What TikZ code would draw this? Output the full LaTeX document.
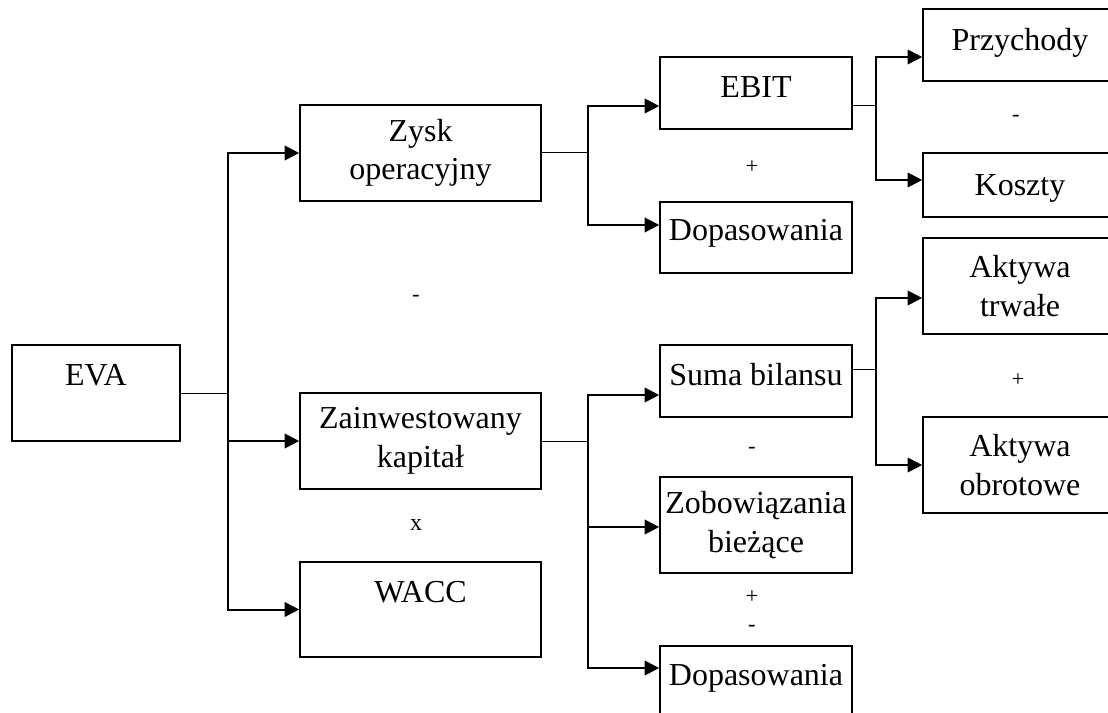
\documentclass[tikz,border=0pt]{standalone}
\usepackage{fontspec}
\setmainfont{Liberation Serif}
\usetikzlibrary{arrows.meta}
\tikzset{
  blok/.style={draw, line width=1.2pt, inner sep=0pt, align=center,
    font=\fontsize{24}{29}\selectfont},
  jeden/.style={text height=17pt, text depth=#1},
  op/.style={font=\fontsize{17}{19}\selectfont},
  cienka/.style={line width=0.75pt},
  strzalka/.style={line width=1.5pt, -{Triangle[length=11pt,width=11pt]}}
}
\begin{document}
\begin{tikzpicture}[x=0.75pt,y=-0.75pt]
\useasboundingbox (0,0) rectangle (1108,713);
% kolumna 1
\node[blok,jeden=28pt,minimum width=126pt,minimum height=72pt] (eva) at (96,393) {EVA};
% kolumna 2
\node[blok,minimum width=180.75pt,minimum height=72pt] (zysk) at (420.5,153) {Zysk\\operacyjny};
\node[blok,minimum width=180.75pt,minimum height=72pt] (zain) at (420.5,441) {Zainwestowany\\kapitał};
\node[blok,jeden=27pt,minimum width=180.75pt,minimum height=71.25pt] (wacc) at (420.5,609.5) {WACC};
\node[op] (minus1) at (416,298) {-};
\node[op,font=\fontsize{18}{20}\selectfont] (razy) at (416,525) {x};
% kolumna 3
\node[blok,jeden=10pt,minimum width=144pt,minimum height=54pt] (ebit) at (756,93) {EBIT};
\node[blok,jeden=12pt,minimum width=144pt,minimum height=53.25pt] (dop1) at (756,237.5) {Dopasowania};
\node[blok,jeden=10pt,minimum width=144pt,minimum height=54pt] (suma) at (756,381) {Suma bilansu};
\node[blok,minimum width=144pt,minimum height=72pt] (zob) at (756,525) {Zobowiązania\\bieżące};
\node[blok,jeden=11.4pt,minimum width=144pt,minimum height=54pt] (dop2) at (756,682) {Dopasowania};
\node[op] (plus1) at (752,167) {+};
\node[op] (minus2) at (752,450) {-};
\node[op] (plus2) at (752,597) {+};
\node[op] (minus3) at (752,628) {-};
% kolumna 4
\node[blok,jeden=8.4pt,minimum width=145.5pt,minimum height=54pt] (przy) at (1020,45) {Przychody};
\node[blok,jeden=1pt,minimum width=145.5pt,minimum height=48pt] (koszty) at (1020,185) {Koszty};
\node[blok,minimum width=145.5pt,minimum height=72pt] (at) at (1020,286) {Aktywa\\trwałe};
\node[blok,minimum width=145.5pt,minimum height=72pt] (ao) at (1020,465) {Aktywa\\obrotowe};
\node[op] (minus4) at (1016,118) {-};
\node[op] (plus3) at (1018,380) {+};
% rozgalezienia
\coordinate (p1) at (228,393);
\coordinate (p2) at (588,153);
\coordinate (p3) at (876,106);
\coordinate (p4) at (588,441);
\coordinate (p5) at (876,369);
\draw[cienka] (eva.east) -- (p1);
\draw[strzalka] (p1) |- (zysk.west);
\draw[strzalka] (p1) |- (zain.west);
\draw[strzalka] (p1) |- (wacc.west);
\draw[cienka] (zysk.east) -- (p2);
\draw[strzalka] (p2) |- ([yshift=-9.75pt]ebit.west);
\draw[strzalka] (p2) |- ([yshift=9.4pt]dop1.west);
\draw[cienka] ([yshift=-9.75pt]ebit.east) -- (p3);
\draw[strzalka] (p3) |- ([yshift=-9pt]przy.west);
\draw[strzalka] (p3) |- ([yshift=3.75pt]koszty.west);
\draw[cienka] (zain.east) -- (p4);
\draw[strzalka] (p4) |- ([yshift=-10.5pt]suma.west);
\draw[strzalka] (p4) |- ([yshift=-1.5pt]zob.west);
\draw[strzalka] (p4) |- ([yshift=10.5pt]dop2.west);
\draw[cienka] ([yshift=9pt]suma.east) -- (p5);
\draw[strzalka] (p5) |- ([yshift=-9pt]at.west);
\draw[strzalka] (p5) |- (ao.west);
\end{tikzpicture}
\end{document}
